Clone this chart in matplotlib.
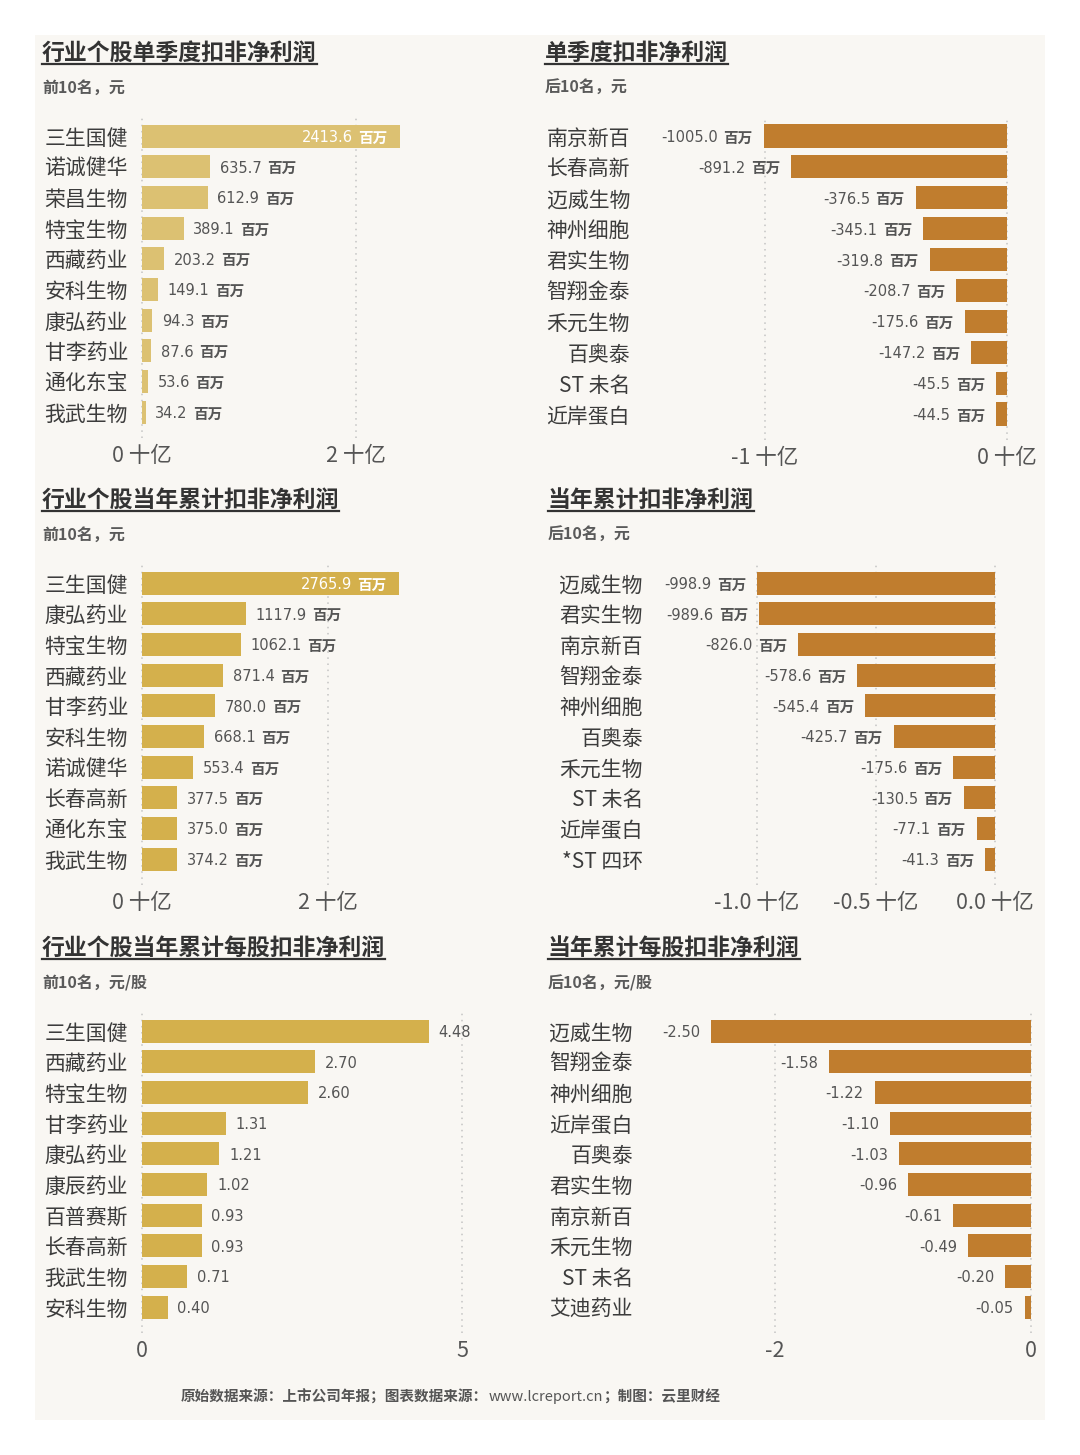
import numpy as np
import matplotlib.pyplot as plt
from matplotlib.lines import Line2D
from matplotlib.patches import Rectangle

# ---- data (values in 百万 for the profit panels, 元/股 for the EPS panels) ----
q_top_names = ['三生国健', '诺诚健华', '荣昌生物', '特宝生物', '西藏药业',
               '安科生物', '康弘药业', '甘李药业', '通化东宝', '我武生物']
q_top_vals = [2413.6, 635.7, 612.9, 389.1, 203.2, 149.1, 94.3, 87.6, 53.6, 34.2]

q_bot_names = ['南京新百', '长春高新', '迈威生物', '神州细胞', '君实生物',
               '智翔金泰', '禾元生物', '百奥泰', 'ST 未名', '近岸蛋白']
q_bot_vals = [-1005.0, -891.2, -376.5, -345.1, -319.8, -208.7, -175.6, -147.2, -45.5, -44.5]

y_top_names = ['三生国健', '康弘药业', '特宝生物', '西藏药业', '甘李药业',
               '安科生物', '诺诚健华', '长春高新', '通化东宝', '我武生物']
y_top_vals = [2765.9, 1117.9, 1062.1, 871.4, 780.0, 668.1, 553.4, 377.5, 375.0, 374.2]

y_bot_names = ['迈威生物', '君实生物', '南京新百', '智翔金泰', '神州细胞',
               '百奥泰', '禾元生物', 'ST 未名', '近岸蛋白', '*ST 四环']
y_bot_vals = [-998.9, -989.6, -826.0, -578.6, -545.4, -425.7, -175.6, -130.5, -77.1, -41.3]

eps_top_names = ['三生国健', '西藏药业', '特宝生物', '甘李药业', '康弘药业',
                 '康辰药业', '百普赛斯', '长春高新', '我武生物', '安科生物']
eps_top_vals = [4.48, 2.70, 2.60, 1.31, 1.21, 1.02, 0.93, 0.93, 0.71, 0.40]

eps_bot_names = ['迈威生物', '智翔金泰', '神州细胞', '近岸蛋白', '百奥泰',
                 '君实生物', '南京新百', '禾元生物', 'ST 未名', '艾迪药业']
eps_bot_vals = [-2.50, -1.58, -1.22, -1.10, -1.03, -0.96, -0.61, -0.49, -0.20, -0.05]

W, H = 1080, 1455
CJK = ['Noto Sans CJK SC', 'DejaVu Sans']
NUM = ['DejaVu Sans', 'Noto Sans CJK SC']
TXT = '#3c3c3c'

fig = plt.figure(figsize=(W / 100, H / 100), dpi=100)
fig.patch.set_facecolor('white')
fig.add_artist(Rectangle((35 / W, 1 - 1420 / H), 1010 / W, 1385 / H,
                         transform=fig.transFigure, facecolor='#f9f7f3',
                         edgecolor='none', zorder=0))

titles = []


def heading(x, y, title, sub):
    t = fig.text(x / W, 1 - y / H, title, fontsize=16.5, weight='bold',
                 color='#333333', family=CJK, va='center')
    titles.append((t, y))
    fig.text(x / W, 1 - (y + 35) / H, sub, fontsize=11.5, weight='bold',
             color='#5a5a5a', family=CJK, va='center')


def panel(names, vals, scale, x0, ppu, left, right, first, last, lab_right,
          ticks, ticklabels, color, unit, fmt, inside_first=False):
    step = (last - first) / 9
    top, bottom = first - 18, last + 26
    ax = fig.add_axes([left / W, 1 - bottom / H, (right - left) / W, (bottom - top) / H])
    ax.set_facecolor('none')
    ax.set_xlim((left - x0) / ppu, (right - x0) / ppu)
    ax.set_ylim(9 + (bottom - last) / step, -(first - top) / step)
    y = np.arange(len(vals))
    v = np.array(vals) / scale
    ax.barh(y, v, height=0.75, color=color, zorder=2)
    for s in ax.spines.values():
        s.set_visible(False)
    ax.set_xticks(ticks, ticklabels)
    ax.set_yticks(y, names)
    for lab in ax.get_yticklabels():
        lab.set_family(CJK)
        lab.set_fontsize(15)
        lab.set_weight(500)
        lab.set_color(TXT)
    for lab in ax.get_xticklabels():
        lab.set_family(CJK)
        lab.set_fontsize(15.5)
        lab.set_color('#555555')
    ax.tick_params(axis='y', length=0, pad=(left - lab_right) * 0.72)
    ax.tick_params(axis='x', length=0, pad=5)
    ax.grid(axis='x', linestyle=(0, (1, 3)), color='#c4c4c4', lw=1.1, zorder=0)
    ax.set_axisbelow(True)

    va = 'center_baseline'
    for i, (raw, val) in enumerate(zip(vals, v)):
        num = fmt.format(raw)
        if i == 0 and inside_first:
            u = ax.annotate(unit, (val, i), xytext=(-9, 0), textcoords='offset points',
                            ha='right', va=va, fontsize=10.5, weight='bold',
                            family=CJK, color='white', zorder=3)
            ax.annotate(num, (0, 0.5), xycoords=u, xytext=(-4, 0), textcoords='offset points',
                        ha='right', va='center', fontsize=10.5, family=NUM,
                        color='white', zorder=3)
        elif val >= 0:
            n = ax.annotate(num, (val, i), xytext=(7, 0), textcoords='offset points',
                            ha='left', va=va, fontsize=10.5, family=NUM, color='#555555')
            if unit:
                ax.annotate(unit, (1, 0.5), xycoords=n, xytext=(4, 0), textcoords='offset points',
                            ha='left', va='center', fontsize=10.5, weight='bold',
                            family=CJK, color='#555555')
        else:
            if unit:
                u = ax.annotate(unit, (val, i), xytext=(-8, 0), textcoords='offset points',
                                ha='right', va=va, fontsize=10.5, weight='bold',
                                family=CJK, color='#555555')
                ax.annotate(num, (0, 0.5), xycoords=u, xytext=(-4, 0), textcoords='offset points',
                            ha='right', va='center', fontsize=10.5, family=NUM, color='#555555')
            else:
                ax.annotate(num, (val, i), xytext=(-8, 0), textcoords='offset points',
                            ha='right', va=va, fontsize=10.5, family=NUM, color='#555555')
    return ax


GOLD_LIGHT = '#dcc172'
GOLD = '#d4b04c'
BRONZE = '#c07d2e'

heading(42, 53, '行业个股单季度扣非净利润', '前10名，元')
panel(q_top_names, q_top_vals, 1000, 142, 107, 134, 520, 136, 412, 128,
      [0, 2], ['0 十亿', '2 十亿'], GOLD_LIGHT, '百万', '{:.1f}', inside_first=True)

heading(545, 53, '单季度扣非净利润', '后10名，元')
panel(q_bot_names, q_bot_vals, 1000, 1007, 242, 640, 1040, 136, 414, 630,
      [-1, 0], ['-1 十亿', '0 十亿'], BRONZE, '百万', '{:.1f}')

heading(42, 500, '行业个股当年累计扣非净利润', '前10名，元')
panel(y_top_names, y_top_vals, 1000, 142, 93, 134, 520, 583, 859, 128,
      [0, 2], ['0 十亿', '2 十亿'], GOLD, '百万', '{:.1f}', inside_first=True)

heading(548, 500, '当年累计扣非净利润', '后10名，元')
panel(y_bot_names, y_bot_vals, 1000, 995, 238, 650, 1040, 583, 859, 643,
      [-1, -0.5, 0], ['-1.0 十亿', '-0.5 十亿', '0.0 十亿'], BRONZE, '百万', '{:.1f}')

heading(42, 948, '行业个股当年累计每股扣非净利润', '前10名，元/股')
panel(eps_top_names, eps_top_vals, 1, 142, 64, 134, 520, 1031, 1307, 128,
      [0, 5], ['0', '5'], GOLD, '', '{:.2f}')

heading(548, 948, '当年累计每股扣非净利润', '后10名，元/股')
panel(eps_bot_names, eps_bot_vals, 1, 1031, 128, 645, 1040, 1031, 1307, 633,
      [-2, 0], ['-2', '0'], BRONZE, '', '{:.2f}')

# footer
f1 = fig.text(181 / W, 1 - 1397 / H, '原始数据来源：上市公司年报；图表数据来源：', fontsize=10.5,
              weight='bold', color='#555555', family=CJK, va='center')
f2 = fig.text(0, 0, 'www.lcreport.cn', fontsize=10.5, color='#555555', family=CJK, va='center')
f3 = fig.text(0, 0, '；制图：云里财经', fontsize=10.5, weight='bold', color='#555555',
              family=CJK, va='center')

fig.canvas.draw()
r = fig.canvas.get_renderer()
b1 = f1.get_window_extent(r)
f2.set_position((b1.x1 / W, 1 - 1397 / H))
b2 = f2.get_window_extent(r)
f3.set_position((b2.x1 / W, 1 - 1397 / H))

# underline titles
for t, y in titles:
    bb = t.get_window_extent(r)
    yy = 1 - (y + 11) / H
    fig.add_artist(Line2D([bb.x0 / W, bb.x1 / W], [yy, yy], transform=fig.transFigure,
                          color='#333333', lw=1.6))

fig.savefig('out.png', dpi=100, facecolor='white')
